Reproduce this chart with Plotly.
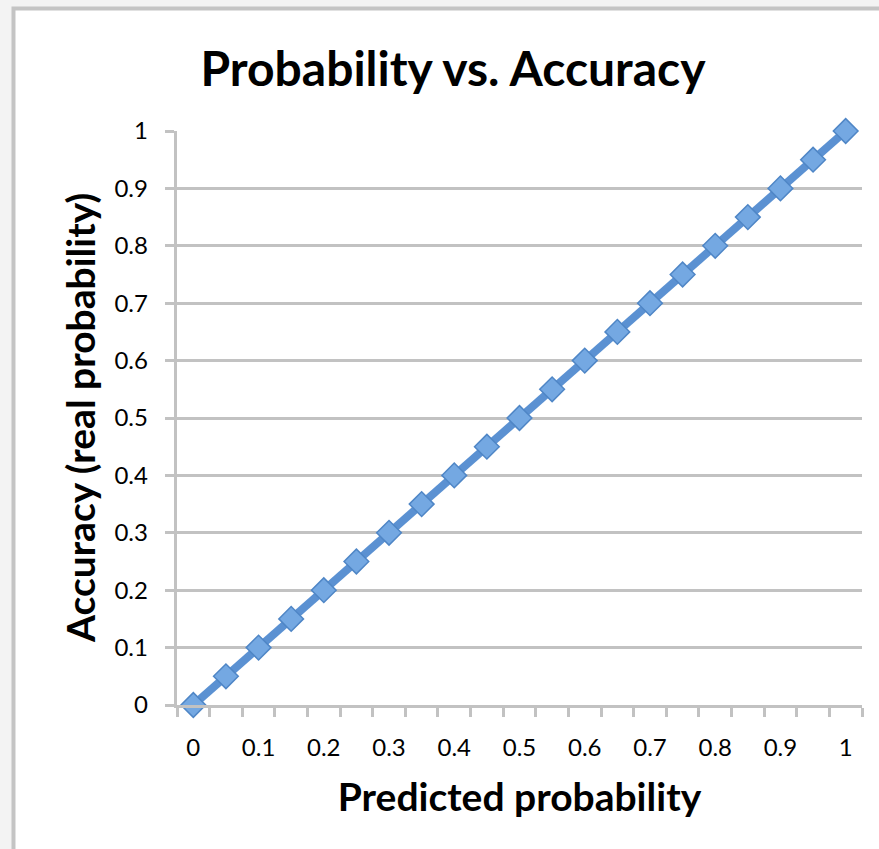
import plotly.graph_objects as go

# data: predicted probability vs accuracy
predicted = [0, 0.05, 0.1, 0.15, 0.2, 0.25, 0.3, 0.35, 0.4, 0.45, 0.5,
             0.55, 0.6, 0.65, 0.7, 0.75, 0.8, 0.85, 0.9, 0.95, 1]
accuracy = [0, 0.05, 0.1, 0.15, 0.2, 0.25, 0.3, 0.35, 0.4, 0.45, 0.5,
            0.55, 0.6, 0.65, 0.7, 0.75, 0.8, 0.85, 0.9, 0.95, 1]
x_tick_vals = [0, 0.1, 0.2, 0.3, 0.4, 0.5, 0.6, 0.7, 0.8, 0.9, 1]
x_tick_text = ["0", "0.1", "0.2", "0.3", "0.4", "0.5", "0.6", "0.7", "0.8", "0.9", "1"]

FONT = "Lato"
GRID = "#c2c2c2"

# category-style ticks between points, like excel
half = (predicted[1] - predicted[0]) / 2
between = [p - half for p in predicted] + [predicted[-1] + half]

fig = go.Figure()
fig.add_trace(go.Scatter(
    x=predicted, y=accuracy,
    mode="lines+markers",
    line=dict(color="#5b91d2", width=8),
    marker=dict(symbol="diamond", size=19, color="#74a8e2",
                line=dict(color="#4f86c6", width=1.5)),
    cliponaxis=False,
    showlegend=False))

fig.update_layout(
    width=879, height=849,
    margin=dict(l=177, r=17, t=131, b=144),
    paper_bgcolor="#f3f3f3",
    plot_bgcolor="white",
    title=dict(text="<b>Probability vs. Accuracy</b>", x=453 / 879, xanchor="center",
               y=1 - 69 / 849, yanchor="middle",
               font=dict(family=FONT, size=48, color="black")),
    font=dict(family=FONT, color="black"),
    shapes=[dict(type="rect", xref="paper", yref="paper", layer="below",
                 x0=-0.2387, x1=1.2, y0=-0.5, y1=1.2134,
                 fillcolor="white", line=dict(color="#c4c4c4", width=4))],
    # y title as annotation so it can sit close to the tick labels
    annotations=[dict(text="<b>Accuracy (real probability)</b>", textangle=-90,
                      xref="paper", yref="paper", x=(80 - 177) / 685, y=0.5,
                      xanchor="center", yanchor="middle", showarrow=False,
                      font=dict(size=39))],
)

fig.update_xaxes(
    range=[between[0], between[-1]],
    tickmode="array", tickvals=x_tick_vals, ticktext=x_tick_text,
    ticks="", showgrid=False, zeroline=False,
    showline=True, linecolor=GRID, linewidth=3,
    tickfont=dict(size=24), ticklabelstandoff=19,
    minor=dict(tickmode="array", tickvals=between, ticks="outside",
               ticklen=9, tickwidth=3, tickcolor=GRID, showgrid=False),
    title=dict(text="<b>Predicted probability</b>", font=dict(size=39), standoff=24),
)
fig.update_yaxes(
    range=[0, 1], dtick=0.1, tick0=0,
    showgrid=True, gridcolor=GRID, gridwidth=3, zeroline=False,
    showline=True, linecolor=GRID, linewidth=3,
    ticks="outside", ticklen=9, tickwidth=3, tickcolor=GRID,
    tickfont=dict(size=24), ticksuffix="\u00a0\u00a0",
)

fig.write_html("out.html", config={"displayModeBar": False},
               post_script="document.body.style.margin='0';")
